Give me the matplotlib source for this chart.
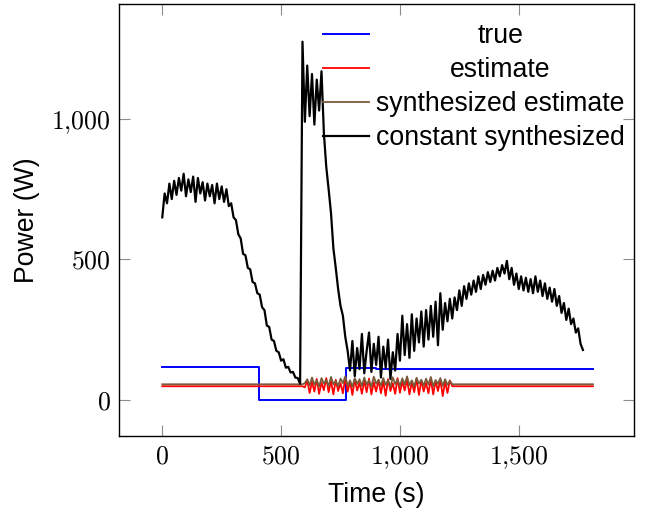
import numpy as np
import matplotlib
matplotlib.use("Agg")
import matplotlib.pyplot as plt
from matplotlib.ticker import FuncFormatter

## Data (time in s, power in W)

# "true": piecewise constant, each value holds until the next breakpoint
true_t = [0, 100, 200, 300, 405, 772, 900, 1100, 1300, 1500, 1700, 1812]
true_p = [118, 117, 118, 117, 0, 113, 112, 111, 111, 110, 109, 109]

# "estimate" / "synthesized estimate": flat, except a noisy 600-1210 s window
flat_t = [0, 590, 1220, 1812]
est_flat = [49, 49, 49, 49]
synth_flat = [56, 56, 56, 56]
noisy_t = np.arange(600, 1220, 10)
est_noisy = [45, 70, 25, 65, 30, 75, 22, 62, 35, 78,
             28, 68, 20, 72, 32, 60, 24, 80, 30, 66,
             18, 74, 34, 62, 22, 70, 28, 76, 20, 64,
             30, 72, 24, 68, 15, 74, 32, 60, 22, 78,
             26, 66, 34, 72, 20, 64, 28, 76, 18, 70,
             30, 62, 24, 74, 20, 68, 32, 72, 14, 66,
             25, 70]
synth_noisy = [60, 74, 52, 80, 55, 70, 48, 78, 58, 72,
               50, 82, 56, 68, 49, 76, 60, 84, 52, 70,
               47, 78, 57, 74, 50, 80, 55, 69, 48, 83,
               58, 72, 51, 78, 54, 70, 47, 81, 57, 73,
               50, 77, 55, 84, 52, 70, 48, 79, 58, 72,
               51, 76, 55, 82, 49, 71, 57, 78, 50, 74,
               54, 68]

# "constant synthesized": sampled every 10 s from 0 to 1770 s
const_t = np.arange(0, 1780, 10)
const_p = [650, 735, 700, 770, 715, 780, 730, 790, 745, 805,
           725, 785, 740, 795, 705, 790, 735, 775, 710, 770,
           725, 765, 700, 770, 715, 760, 705, 750, 690, 700,
           650, 640, 590, 575, 520, 515, 470, 465, 420, 415,
           380, 375, 330, 320, 265, 260, 215, 210, 175, 170,
           140, 145, 115, 118, 98, 100, 80, 78, 58, 1275,
           990, 1190, 1010, 1160, 980, 1140, 1030, 1170, 950, 830,
           750, 665, 540, 470, 395, 335, 300, 225, 175, 105,
           210, 85, 185, 110, 235, 95, 175, 240, 100, 200,
           125, 225, 80, 190, 115, 215, 75, 170, 105, 235,
           140, 300, 160, 270, 150, 305, 175, 290, 205, 315,
           190, 320, 215, 335, 225, 350, 195, 380, 250, 345,
           280, 360, 290, 365, 320, 390, 335, 405, 360, 415,
           375, 425, 385, 440, 395, 445, 410, 455, 420, 460,
           425, 470, 440, 480, 450, 495, 430, 470, 410, 450,
           395, 440, 390, 435, 385, 430, 380, 440, 385, 425,
           370, 415, 360, 400, 350, 395, 335, 370, 310, 345,
           285, 325, 270, 290, 240, 255, 200, 178]

x_ticks = [0, 500, 1000, 1500]
y_ticks = [0, 500, 1000]

## Assemble the estimate series (flat head, noisy window, flat tail)
est_t = np.concatenate([flat_t[:2], noisy_t, flat_t[2:]])
est_p = np.concatenate([est_flat[:2], est_noisy, est_flat[2:]])
synth_p = np.concatenate([synth_flat[:2], synth_noisy, synth_flat[2:]])

plt.rcParams['font.family'] = ['Liberation Sans', 'DejaVu Sans']
plt.rcParams['mathtext.fontset'] = 'cm'
fs = 19.2       # sans text (labels, legend)
fs_tick = 18.5  # computer modern tick numbers

fig = plt.figure(figsize=(6.45, 5.12), dpi=100)
ax = fig.subplots()
fig.subplots_adjust(left=0.1845, right=0.983, bottom=0.149, top=0.9916)

ax.plot(true_t, true_p, color='#0000ff', lw=1.4, drawstyle='steps-post', label='true')
ax.plot(est_t, est_p, color='#ff0000', lw=1.3, label='estimate')
ax.plot(est_t, synth_p, color='#7b5a3a', lw=1.3, label='synthesized estimate')
ax.plot(const_t, const_p, color='black', lw=1.6, label='constant synthesized')

ax.set_xlim(-182, 1985)
ax.set_ylim(-127, 1408)

def latex_num(v, pos):
    return r'$' + '{:,}'.format(int(v)).replace(',', '{,}') + r'$'

ax.set_xticks(x_ticks)
ax.set_yticks(y_ticks)
ax.xaxis.set_major_formatter(FuncFormatter(latex_num))
ax.yaxis.set_major_formatter(FuncFormatter(latex_num))
ax.tick_params(direction='in', length=8, width=0.8, color='#8c8c8c',
               top=True, right=True, labelsize=fs_tick)
ax.tick_params(axis='x', pad=6)
ax.tick_params(axis='y', pad=6)
for s in ax.spines.values():
    s.set_linewidth(1.0)
    s.set_color('black')

ax.set_xlabel('Time (s)', fontsize=fs, labelpad=8)
ax.set_ylabel('Power (W)', fontsize=fs, labelpad=8)

leg = ax.legend(loc='upper left', bbox_to_anchor=(0.3967, 0.956), frameon=False,
                fontsize=fs, borderpad=0, borderaxespad=0, handlelength=1.7,
                handletextpad=0.28, labelspacing=0.3)

# pgfplots centres the legend texts in their column
fig.canvas.draw()
r = fig.canvas.get_renderer()
widths = [t.get_window_extent(r).width for t in leg.get_texts()]
for t, w in zip(leg.get_texts(), widths):
    t.set_x((max(widths) - w) / 2)

fig.savefig('out.png', dpi=100)
